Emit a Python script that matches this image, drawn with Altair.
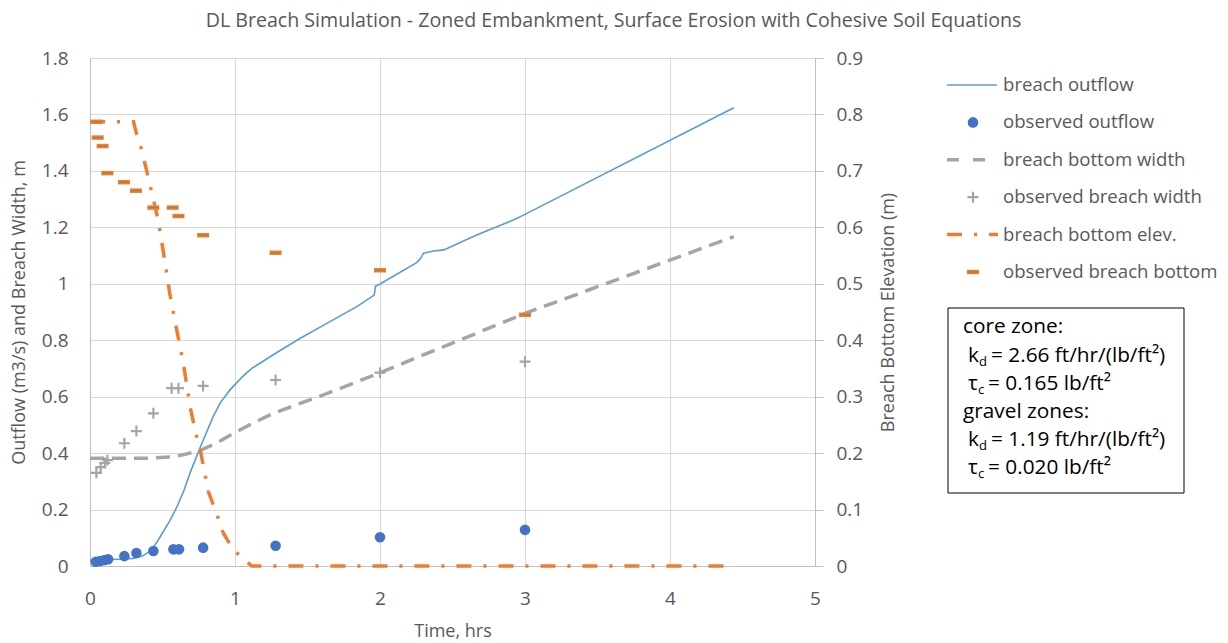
import altair as alt
import pandas as pd

# ---------------- data ----------------
# model: breach outflow (m3/s) vs time (hrs)
t_outflow = [0.0, 0.1, 0.2, 0.3, 0.36, 0.4, 0.44, 0.48, 0.55, 0.6, 0.65, 0.69, 0.76,
             0.85, 0.9, 0.966, 1.05, 1.115, 1.3, 1.45, 1.655, 1.84, 1.96, 1.97, 2.0,
             2.253, 2.28, 2.3, 2.37, 2.44, 2.667, 2.92, 3.0, 4.44]
q_outflow = [0.021, 0.022, 0.024, 0.027, 0.035, 0.047, 0.068, 0.10, 0.16, 0.21, 0.27,
             0.33, 0.42, 0.53, 0.58, 0.624, 0.67, 0.70, 0.76, 0.807, 0.866, 0.919,
             0.96, 0.992, 0.999, 1.075, 1.09, 1.108, 1.116, 1.12, 1.173, 1.226, 1.246, 1.624]

# model: breach bottom width (m)
t_width = [0.0, 0.4, 0.57, 0.65, 0.76, 0.87, 0.99, 1.1, 1.26, 1.7, 2.0, 3.0, 4.44]
w_width = [0.382, 0.382, 0.387, 0.395, 0.41, 0.435, 0.47, 0.50, 0.54, 0.624, 0.685, 0.895, 1.167]

# model: breach bottom elevation (m, right axis)
t_elev = [0.0, 0.3, 0.32, 0.356, 0.4, 0.425, 0.47, 0.517, 0.55, 0.586, 0.644, 0.69,
          0.736, 0.76, 0.816, 0.873, 0.92, 0.99, 1.046, 1.115, 4.44]
e_elev = [0.787, 0.787, 0.767, 0.738, 0.69, 0.663, 0.613, 0.539, 0.483, 0.434, 0.359,
          0.282, 0.229, 0.206, 0.132, 0.093, 0.058, 0.028, 0.016, 0.0, 0.0]

# observations
t_obs_q = [0.04, 0.07, 0.10, 0.125, 0.237, 0.32, 0.437, 0.575, 0.614, 0.78, 1.28, 2.0, 3.0]
q_obs = [0.015, 0.018, 0.021, 0.024, 0.035, 0.046, 0.053, 0.059, 0.059, 0.065, 0.072, 0.102, 0.128]

t_obs_w = [0.044, 0.074, 0.102, 0.12, 0.237, 0.32, 0.437, 0.563, 0.61, 0.78, 1.28, 2.0, 3.0]
w_obs = [0.33, 0.35, 0.365, 0.375, 0.435, 0.478, 0.541, 0.63, 0.63, 0.638, 0.659, 0.685, 0.724]

t_obs_e = [0.046, 0.053, 0.087, 0.12, 0.234, 0.317, 0.437, 0.57, 0.61, 0.78, 1.28, 2.0, 3.0]
e_obs = [0.787, 0.759, 0.744, 0.696, 0.68, 0.665, 0.635, 0.635, 0.62, 0.586, 0.555, 0.524, 0.445]

x_ticks = [0, 1, 2, 3, 4, 5]
left_ticks = [0, 0.2, 0.4, 0.6, 0.8, 1, 1.2, 1.4, 1.6, 1.8]
right_ticks = [0, 0.1, 0.2, 0.3, 0.4, 0.5, 0.6, 0.7, 0.8, 0.9]

legend_labels = ["breach outflow", "observed outflow", "breach bottom width",
                 "observed breach width", "breach bottom elev.", "observed breach bottom"]

title_text = "DL Breach Simulation - Zoned Embankment, Surface Erosion with Cohesive Soil Equations"

# ---------------- styling ----------------
FONT = "Open Sans"
TXT = "#595959"
GRID = "#D9D9D9"
AXIS = "#BFBFBF"
BLUE_LINE = "#5B9BD5"
BLUE_DOT = "#4472C4"
GRAY = "#A5A5A5"
ORANGE = "#ED7D31"

W, H = 725, 508

df_q = pd.DataFrame({"t": t_outflow, "v": q_outflow})
df_w = pd.DataFrame({"t": t_width, "v": w_width})
df_e = pd.DataFrame({"t": t_elev, "e": e_elev})
df_oq = pd.DataFrame({"t": t_obs_q, "v": q_obs})
df_ow = pd.DataFrame({"t": t_obs_w, "v": w_obs})
df_oe = pd.DataFrame({"t": t_obs_e, "e": e_obs})

x_enc = alt.X("t:Q", scale=alt.Scale(domain=[0, 5], nice=False, zero=True),
              axis=alt.Axis(values=x_ticks, title="Time, hrs", grid=True, gridColor=GRID,
                            domainColor=AXIS, ticks=False, tickSize=0, labelPadding=23,
                            labelFlush=False, titlePadding=14, format="d"))

y_left = alt.Y("v:Q", scale=alt.Scale(domain=[0, 1.8], nice=False, zero=True),
               axis=alt.Axis(values=left_ticks, format="~g", title="Outflow (m3/s) and Breach Width, m",
                             grid=True, gridColor=GRID, domainColor=AXIS, ticks=False, tickSize=0,
                             labelFlush=False, labelPadding=22, titlePadding=13))

y_right = alt.Y("e:Q", scale=alt.Scale(domain=[0, 0.9], nice=False, zero=True),
                axis=alt.Axis(orient="right", values=right_ticks, format="~g",
                              title="Breach Bottom Elevation (m)", grid=False, domainColor=AXIS,
                              tickColor=AXIS, tickSize=8, labelPadding=13, labelFlush=False,
                              titleAngle=270, titleBaseline="top", titlePadding=17))

plus_path = "M-1,0H1M0,-1V1"
dash_path = "M-1,0H1"

line_q = alt.Chart(df_q).mark_line(color=BLUE_LINE, strokeWidth=1.6).encode(x=x_enc, y=y_left)
pts_q = alt.Chart(df_oq).mark_point(filled=True, size=112, color=BLUE_DOT, opacity=1).encode(x=x_enc, y=y_left)
line_w = alt.Chart(df_w).mark_line(color=GRAY, strokeWidth=3.5, strokeDash=[14, 8]).encode(x=x_enc, y=y_left)
pts_w = alt.Chart(df_ow).mark_point(shape=plus_path, size=121, color=GRAY, strokeWidth=2.2,
                                    filled=False, opacity=1).encode(x=x_enc, y=y_left)

line_e = alt.Chart(df_e).mark_line(color=ORANGE, strokeWidth=3.5,
                                   strokeDash=[15, 12, 3, 12]).encode(x=x_enc, y=y_right)
pts_e = alt.Chart(df_oe).mark_point(shape=dash_path, size=144, color=ORANGE, strokeWidth=4.5,
                                    filled=False, opacity=1).encode(x=x_enc, y=y_right)
pts_e2 = alt.Chart(df_oe).mark_point(shape=dash_path, size=100, color="#A0803A", strokeWidth=1.2,
                                     filled=False, opacity=1).encode(x=x_enc, y=y_right)

left = alt.layer(line_q, pts_q, line_w, pts_w)
right = alt.layer(line_e, pts_e, pts_e2)

# ---------------- title (centred over the whole figure) ----------------
one = pd.DataFrame({"k": [0]})
title_mark = alt.Chart(one).mark_text(align="center", baseline="alphabetic", font=FONT, fontSize=19.6,
                                      color=TXT, text=title_text).encode(
    x=alt.value(523.5), y=alt.value(-31.5))

# ---------------- legend (manual, to the right of the plot) ----------------
LX = 857          # left of legend symbols (relative to plot origin)
LROW0, LSTEP = 27, 37.4
rows = [LROW0 + i * LSTEP for i in range(len(legend_labels))]
df_leg = pd.DataFrame({"label": legend_labels, "py": rows})

leg_text = alt.Chart(df_leg).mark_text(align="left", baseline="middle", font=FONT, fontSize=18.6,
                                       color=TXT).encode(
    x=alt.value(LX + 56), y=alt.Y("py:Q", scale=None, axis=None), text="label:N")

leg1 = alt.Chart(one).mark_rule(color=BLUE_LINE, strokeWidth=1.6).encode(
    x=alt.value(LX), x2=alt.value(LX + 50), y=alt.value(rows[0]))
leg2 = alt.Chart(one).mark_point(filled=True, size=112, color=BLUE_DOT, opacity=1).encode(
    x=alt.value(LX + 26), y=alt.value(rows[1]))
leg3 = alt.Chart(one).mark_rule(color=GRAY, strokeWidth=3.5, strokeDash=[12, 14]).encode(
    x=alt.value(LX), x2=alt.value(LX + 38), y=alt.value(rows[2]))
leg4 = alt.Chart(one).mark_point(shape=plus_path, size=121, color=GRAY, strokeWidth=2.2,
                                 filled=False, opacity=1).encode(
    x=alt.value(LX + 26), y=alt.value(rows[3]))
leg5 = alt.Chart(one).mark_rule(color=ORANGE, strokeWidth=3.5, strokeDash=[15, 12, 3, 12]).encode(
    x=alt.value(LX), x2=alt.value(LX + 51), y=alt.value(rows[4]))
leg6 = alt.Chart(one).mark_point(shape=dash_path, size=144, color=ORANGE, strokeWidth=4.5,
                                 filled=False, opacity=1).encode(
    x=alt.value(LX + 26), y=alt.value(rows[5]))
leg6b = alt.Chart(one).mark_point(shape=dash_path, size=100, color="#A0803A", strokeWidth=1.2,
                                  filled=False, opacity=1).encode(
    x=alt.value(LX + 26), y=alt.value(rows[5]))

# ---------------- parameter box ----------------
box = alt.Chart(one).mark_rect(fill="white", stroke="black", strokeWidth=1).encode(
    x=alt.value(858), x2=alt.value(1094), y=alt.value(250), y2=alt.value(435))

box_main = pd.DataFrame({
    "txt": ["core zone:", "k", "= 2.66 ft/hr/(lb/ft²)", "τ", "= 0.165 lb/ft²",
            "gravel zones:", "k", "= 1.19 ft/hr/(lb/ft²)", "τ", "= 0.020 lb/ft²"],
    "px": [873, 878, 901, 878, 898, 873, 878, 901, 878, 898],
    "py": [275, 304, 304, 332, 332, 360, 388, 388, 416, 416],
})
box_sub = pd.DataFrame({
    "txt": ["d", "c", "d", "c"],
    "px": [889, 888, 889, 888],
    "py": [308, 336, 392, 420],
})
box_text = alt.Chart(box_main).mark_text(align="left", baseline="alphabetic", font=FONT,
                                         fontSize=20.8, color="black").encode(
    x=alt.X("px:Q", scale=None, axis=None), y=alt.Y("py:Q", scale=None, axis=None), text="txt:N")
box_subtext = alt.Chart(box_sub).mark_text(align="left", baseline="alphabetic", font=FONT,
                                           fontSize=13, color="black").encode(
    x=alt.X("px:Q", scale=None, axis=None), y=alt.Y("py:Q", scale=None, axis=None), text="txt:N")

chart = alt.layer(
    alt.layer(left, right).resolve_scale(y="independent"),
    title_mark,
    leg_text, leg1, leg2, leg3, leg4, leg5, leg6, leg6b,
    box, box_text, box_subtext,
).properties(
    width=W, height=H,
    padding={"left": 90, "top": 58, "right": 1228 - 90 - W, "bottom": 643 - 58 - H},
    autosize=alt.AutoSizeParams(type="none"),
).configure_axis(
    labelFont=FONT, labelFontSize=19, labelColor=TXT,
    titleFont=FONT, titleFontSize=18, titleColor=TXT, titleFontWeight="normal",
).configure_view(stroke=None)

chart.save("out.html", embed_options={"renderer": "svg", "actions": False})
